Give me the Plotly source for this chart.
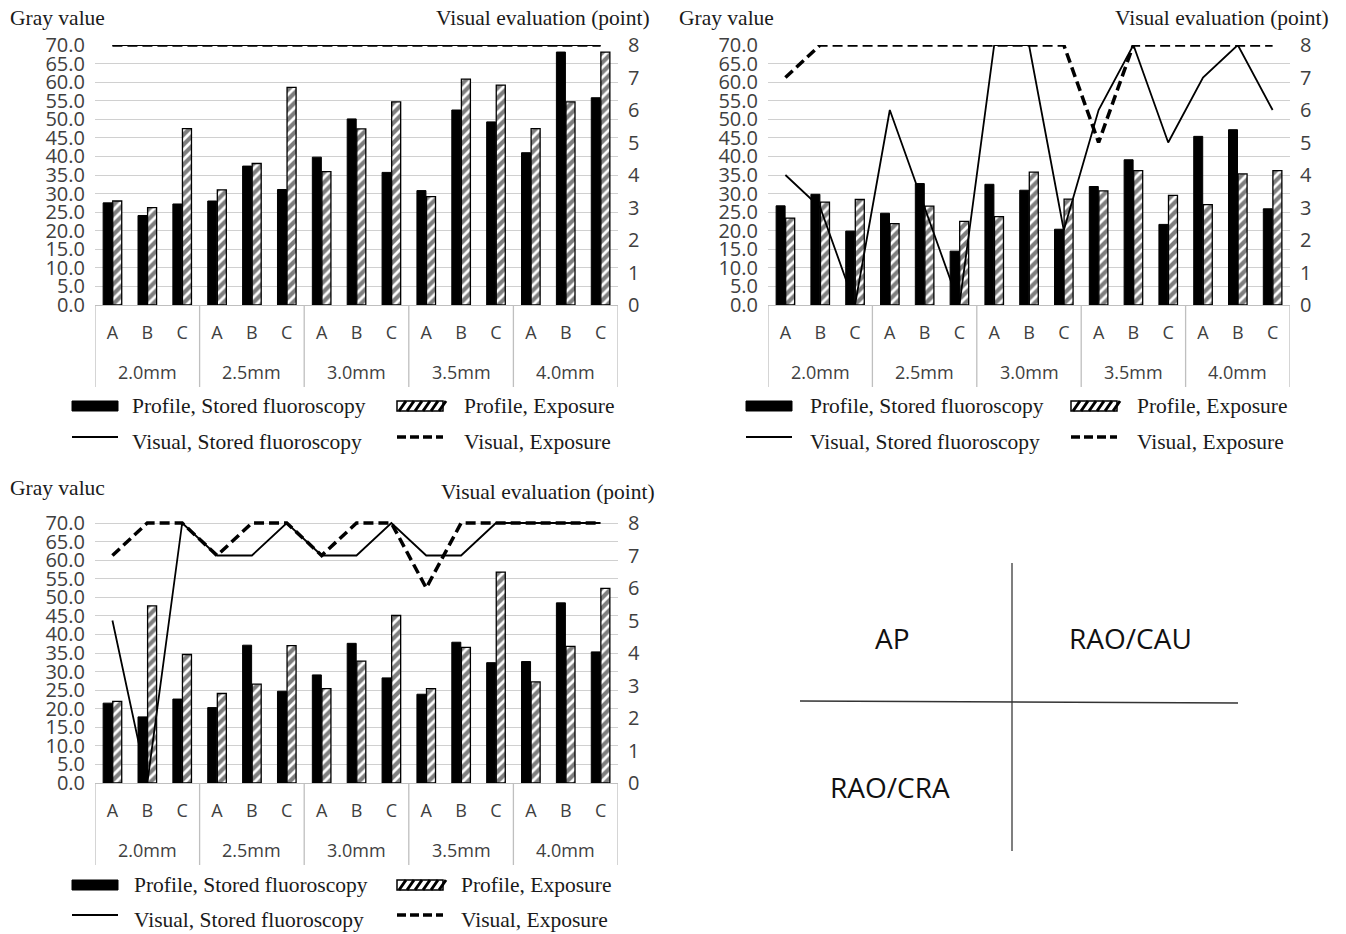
import plotly.graph_objects as go

W, H = 1346, 934

# Category levels
sizes = ["2.0mm", "2.5mm", "3.0mm", "3.5mm", "4.0mm"]
cases = ["A", "B", "C"]
x_groups = [s for s in sizes for _ in cases]
x_cases = cases * len(sizes)

# AP
ap_profile_stored = [27.5, 24.1, 27.2, 28.0, 37.4, 31.1, 39.8, 50.1, 35.7, 30.8, 52.5, 49.3, 41.0, 68.1, 55.8]
ap_profile_exposure = [28.0, 26.2, 47.5, 31.0, 38.1, 58.6, 35.9, 47.4, 54.7, 29.2, 60.8, 59.2, 47.5, 54.7, 68.1]
ap_visual_stored = [8, 8, 8, 8, 8, 8, 8, 8, 8, 8, 8, 8, 8, 8, 8]
ap_visual_exposure = [8, 8, 8, 8, 8, 8, 8, 8, 8, 8, 8, 8, 8, 8, 8]

# RAO/CAU
cau_profile_stored = [26.7, 29.8, 19.9, 24.7, 32.7, 14.5, 32.5, 30.9, 20.4, 31.9, 39.1, 21.7, 45.4, 47.2, 25.9]
cau_profile_exposure = [23.4, 27.7, 28.4, 21.9, 26.6, 22.5, 23.8, 35.8, 28.5, 30.7, 36.2, 29.5, 27.0, 35.3, 36.2]
cau_visual_stored = [4, 3, 0, 6, 3, 0, 8, 8, 2.3, 6, 8, 5, 7, 8, 6]
cau_visual_exposure = [7, 8, 8, 8, 8, 8, 8, 8, 8, 5, 8, 8, 8, 8, 8]

# RAO/CRA
cra_profile_stored = [21.5, 17.8, 22.6, 20.3, 37.1, 24.7, 29.1, 37.6, 28.3, 23.9, 37.9, 32.4, 32.7, 48.5, 35.3]
cra_profile_exposure = [22.0, 47.7, 34.6, 24.1, 26.6, 37.0, 25.4, 32.8, 45.1, 25.4, 36.5, 56.8, 27.2, 36.8, 52.4]
cra_visual_stored = [5, 0, 8, 7, 7, 8, 7, 7, 8, 7, 7, 8, 8, 8, 8]
cra_visual_exposure = [7, 8, 8, 7, 8, 8, 7, 8, 8, 6, 8, 8, 8, 8, 8]

legend_labels = ["Profile, Stored fluoroscopy", "Profile, Exposure",
                 "Visual, Stored fluoroscopy", "Visual, Exposure"]
quadrant_labels = ["AP", "RAO/CAU", "RAO/CRA"]

SERIF = "Liberation Serif"
SANS = "Open Sans"
TXT = "#1a1a1a"
TICK = "#404040"
GRID = "#d0d0d0"
AXLINE = "#bfbfbf"

# slot index of every (size, case) pair on the category axis
slot = list(range(len(x_cases)))
n_case = len(cases)
group_centers = [j * n_case + (n_case - 1) / 2 for j in range(len(sizes))]
group_edges = [j * n_case - 0.5 for j in range(len(sizes) + 1)]


def fx(px):
    return px / W


def fy(py):
    return 1 - py / H


panels = [
    dict(data=(ap_profile_stored, ap_profile_exposure, ap_visual_stored, ap_visual_exposure),
         x0=95, x1=618, top=45, bottom=305, extra=0.0, title="Gray value",
         tl=8, ty=18, rr=652, ry=18, leg=dict(sw=72, tx=130, sw2=397, tx2=462, r1=406, r2=442)),
    dict(data=(cau_profile_stored, cau_profile_exposure, cau_visual_stored, cau_visual_exposure),
         x0=768, x1=1290, top=45, bottom=305, extra=0.0, title="Gray value",
         tl=677, ty=18, rr=1331, ry=18, leg=dict(sw=746, tx=808, sw2=1071, tx2=1135, r1=406, r2=442)),
    dict(data=(cra_profile_stored, cra_profile_exposure, cra_visual_stored, cra_visual_exposure),
         x0=95, x1=618, top=523, bottom=783, extra=0.6, title="Gray valuc",
         tl=8, ty=488, rr=657, ry=492, leg=dict(sw=72, tx=132, sw2=397, tx2=459, r1=885, r2=920)),
]

fig = go.Figure()
annotations = []
shapes = []
layout_axes = {}

for i, p in enumerate(panels):
    k = i + 1
    xa = "x" if k == 1 else f"x{k}"
    yl = "y" if k == 1 else f"y{2 * k - 1}"
    yr = f"y{2 * k}"
    stored, exposure, vis_stored, vis_exposure = p["data"]

    fig.add_trace(go.Bar(x=slot, y=stored, xaxis=xa, yaxis=yl, showlegend=False,
                         marker=dict(color="black", line=dict(color="black", width=1))))
    fig.add_trace(go.Bar(x=slot, y=exposure, xaxis=xa, yaxis=yl, showlegend=False,
                         marker=dict(color="white", line=dict(color="black", width=1.3),
                                     pattern=dict(shape="/", fgcolor="black", bgcolor="white",
                                                  size=7, solidity=0.6))))
    fig.add_trace(go.Scatter(x=slot, y=vis_exposure, xaxis=xa, yaxis=yr, mode="lines",
                             showlegend=False,
                             line=dict(color="black", width=3.5, dash="10px,5px")))
    fig.add_trace(go.Scatter(x=slot, y=vis_stored, xaxis=xa, yaxis=yr, mode="lines",
                             showlegend=False, line=dict(color="black", width=1.8)))

    ppu = (p["bottom"] - p["top"]) / 70.0
    top_px = p["top"] - p["extra"] * ppu
    ymax = 70 + p["extra"]
    xdom = [fx(p["x0"]), fx(p["x1"])]
    ydom = [fy(p["bottom"]), fy(top_px)]

    layout_axes["xaxis" if k == 1 else f"xaxis{k}"] = dict(
        domain=xdom, anchor=yl, range=[-0.5, len(slot) - 0.5], tickmode="array",
        tickvals=slot, ticktext=x_cases, showline=True, automargin=False,
        linecolor=AXLINE, linewidth=1.3, showgrid=False, zeroline=False, ticks="",
        ticklabelstandoff=11, tickfont=dict(family=SANS, size=18, color=TICK))
    layout_axes["yaxis" if k == 1 else f"yaxis{2 * k - 1}"] = dict(
        domain=ydom, anchor=xa, range=[0, ymax], dtick=5, tick0=0, tickformat=".1f",
        showgrid=True, gridcolor=GRID, gridwidth=1.3, zeroline=False, showline=False,
        automargin=False, ticks="", ticklabelstandoff=9,
        tickfont=dict(family=SANS, size=20, color=TICK))
    layout_axes[f"yaxis{2 * k}"] = dict(
        overlaying=yl, anchor=xa, side="right", range=[0, 8 * ymax / 70], dtick=1, tick0=0,
        showgrid=False, zeroline=False, showline=False, ticks="", ticklabelstandoff=9,
        automargin=False, tickfont=dict(family=SANS, size=20, color=TICK))

    # outer category level: dividers and size labels
    for e in group_edges:
        shapes.append(dict(type="line", xref=xa, yref="paper", x0=e, x1=e,
                           y0=fy(p["bottom"]), y1=fy(p["bottom"] + 82),
                           line=dict(color=AXLINE, width=1.3)))
    for g, c in zip(sizes, group_centers):
        annotations.append(dict(text=g, xref=xa, yref="paper", x=c, y=fy(p["bottom"] + 67),
                                xanchor="center", yanchor="middle", showarrow=False,
                                font=dict(family=SANS, size=18, color=TICK)))

    # panel headings
    annotations.append(dict(text=p["title"], xref="paper", yref="paper", x=fx(p["tl"]), y=fy(p["ty"]),
                            xanchor="left", yanchor="middle", showarrow=False,
                            font=dict(family=SERIF, size=21.5, color=TXT)))
    annotations.append(dict(text="Visual evaluation (point)", xref="paper", yref="paper",
                            x=fx(p["rr"]), y=fy(p["ry"]), xanchor="right", yanchor="middle",
                            showarrow=False, font=dict(family=SERIF, size=21.5, color=TXT)))

    # key
    lg = p["leg"]
    r1, r2 = lg["r1"], lg["r2"]
    shapes.append(dict(type="rect", xref="paper", yref="paper",
                       x0=fx(lg["sw"]), x1=fx(lg["sw"] + 46), y0=fy(r1 + 5), y1=fy(r1 - 5),
                       fillcolor="black", line=dict(color="black", width=1)))
    hx0, hx1 = lg["sw2"], lg["sw2"] + 46
    shapes.append(dict(type="rect", xref="paper", yref="paper",
                       x0=fx(hx0), x1=fx(hx1), y0=fy(r1 + 5), y1=fy(r1 - 5),
                       fillcolor="white", line=dict(color="black", width=1.5)))
    stripe = ""
    for j in range(6):
        sx = hx0 + 2 + j * 8
        stripe += f"M{fx(sx)},{fy(r1 + 5)} L{fx(sx + 7)},{fy(r1 - 5)} "
    shapes.append(dict(type="path", xref="paper", yref="paper", path=stripe,
                       line=dict(color="black", width=3)))
    shapes.append(dict(type="line", xref="paper", yref="paper",
                       x0=fx(lg["sw"]), x1=fx(lg["sw"] + 46), y0=fy(r2 - 5), y1=fy(r2 - 5),
                       line=dict(color="black", width=1.8)))
    shapes.append(dict(type="line", xref="paper", yref="paper",
                       x0=fx(hx0), x1=fx(hx1), y0=fy(r2 - 5), y1=fy(r2 - 5),
                       line=dict(color="black", width=3.5, dash="9px,4px")))
    for txt, tx, ty in [(legend_labels[0], lg["tx"], r1), (legend_labels[1], lg["tx2"], r1),
                        (legend_labels[2], lg["tx"], r2), (legend_labels[3], lg["tx2"], r2)]:
        annotations.append(dict(text=txt, xref="paper", yref="paper", x=fx(tx), y=fy(ty),
                                xanchor="left", yanchor="middle", showarrow=False,
                                font=dict(family=SERIF, size=21.5, color=TXT)))

# quadrant key for the three projections
shapes.append(dict(type="line", xref="paper", yref="paper", x0=fx(1012), x1=fx(1012),
                   y0=fy(563), y1=fy(851), line=dict(color="#555555", width=1.5)))
shapes.append(dict(type="line", xref="paper", yref="paper", x0=fx(800), x1=fx(1238),
                   y0=fy(701), y1=fy(703), line=dict(color="#333333", width=1.5)))
for txt, qx, qy in [(quadrant_labels[0], 892, 638), (quadrant_labels[1], 1130, 638),
                    (quadrant_labels[2], 890, 787)]:
    annotations.append(dict(text=txt, xref="paper", yref="paper", x=fx(qx), y=fy(qy),
                            xanchor="center", yanchor="middle", showarrow=False,
                            font=dict(family=SANS, size=28, color="#111111")))

fig.update_layout(
    width=W, height=H, margin=dict(l=0, r=0, t=0, b=0, autoexpand=False),
    paper_bgcolor="white", plot_bgcolor="white",
    barmode="group", bargap=0.45, bargroupgap=0.06,
    showlegend=False, annotations=annotations, shapes=shapes,
    **layout_axes,
)

fig.write_html("out.html")
